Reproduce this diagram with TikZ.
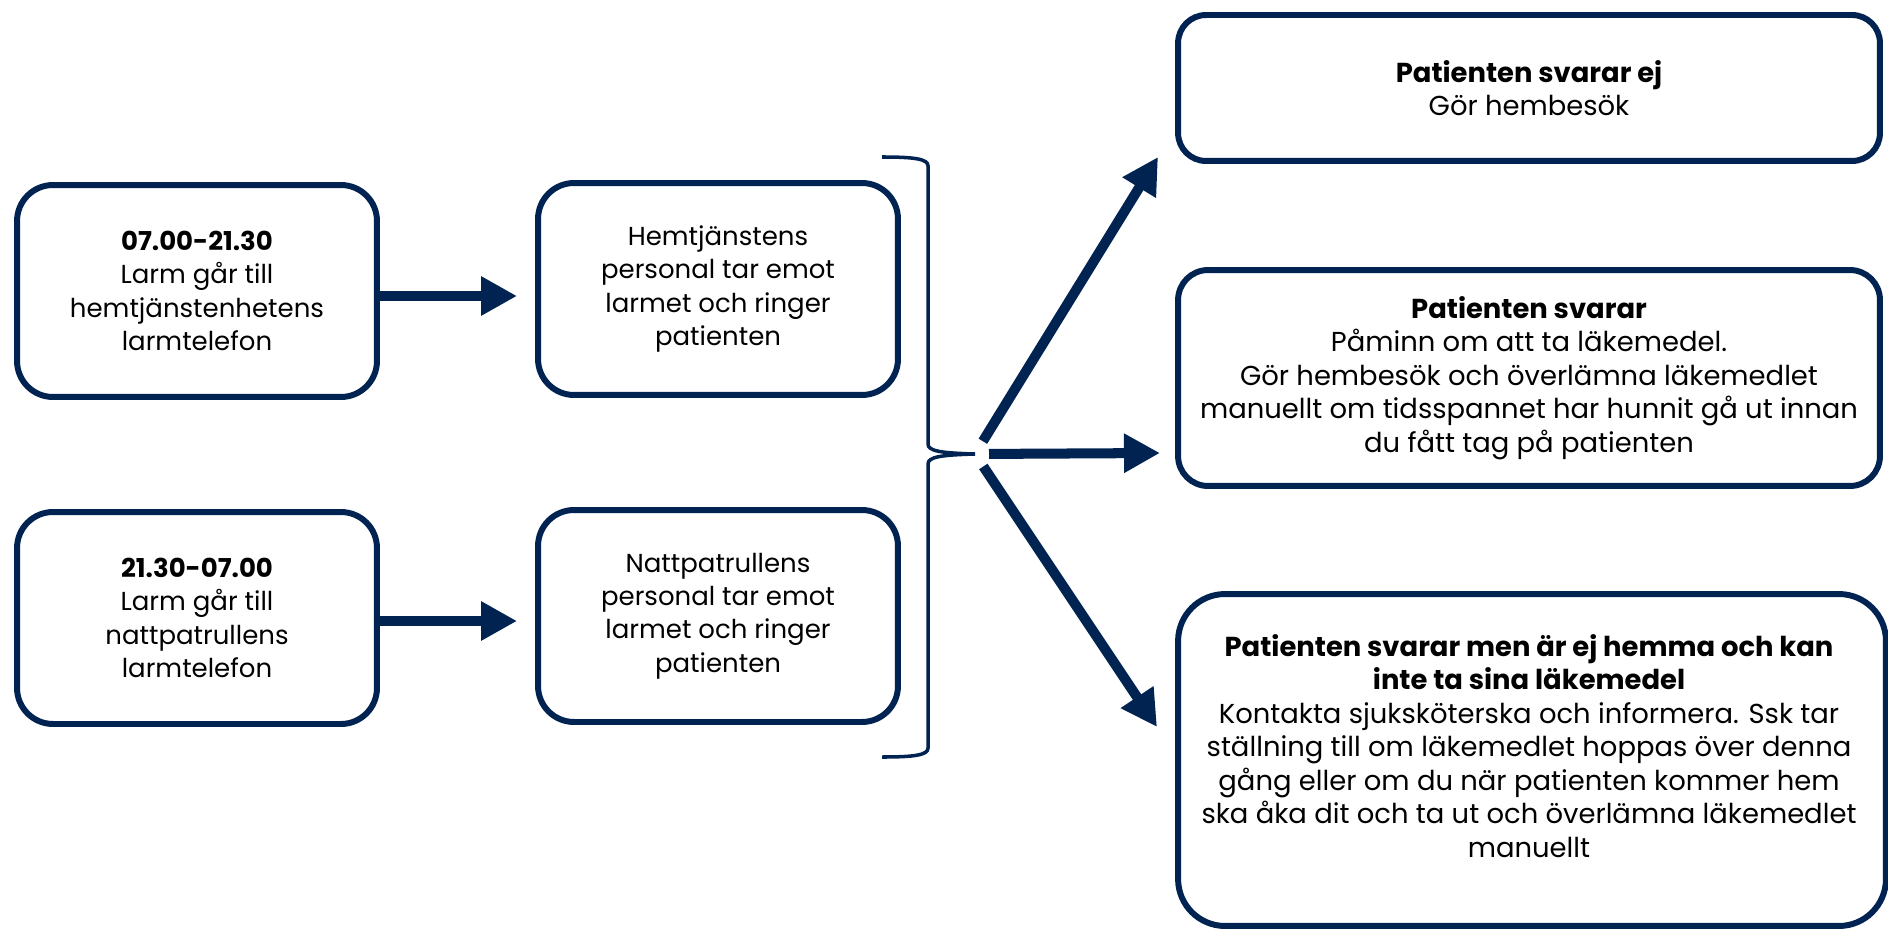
\documentclass[tikz,border=0pt]{standalone}
\usepackage{fontspec}
\setmainfont{Poppins}
\usetikzlibrary{arrows.meta,calc}
\definecolor{navy}{RGB}{0,35,82}
\tikzset{
	box/.style={draw=navy, line width=3.4pt, rounded corners=0.72cm, align=center,
		inner sep=0pt, font=\fontsize{14.8}{19}\selectfont},
	wide/.style={font=\fontsize{15.6}{19.1}\selectfont},
	flow/.style={draw=navy, line width=5.7pt, -{Triangle[length=0.72cm,width=0.74cm]}},
	brace/.style={draw=navy, line width=2pt},
}
\begin{document}
\begin{tikzpicture}[x=0.02cm, y=-0.02cm]
	\useasboundingbox (0,0) rectangle (1888,929);
	% left column
	\node[box, minimum width=7.2cm, minimum height=4.24cm] (day) at (197,291)
		{\textbf{07.00-21.30}\\Larm går till\\hemtjänstenhetens\\larmtelefon};
	\node[box, minimum width=7.2cm, minimum height=4.24cm] (night) at (197,618)
		{\textbf{21.30-07.00}\\Larm går till\\nattpatrullens\\larmtelefon};
	% staff
	\node[box, minimum width=7.2cm, minimum height=4.24cm] (homecare) at (718,289)
		{Hemtjänstens\\personal tar emot\\larmet och ringer\\patienten};
	\node[box, minimum width=7.2cm, minimum height=4.24cm] (patrol) at (718,616)
		{Nattpatrullens\\personal tar emot\\larmet och ringer\\patienten};
	\draw[flow, shorten >=0.36cm] ([yshift=-0.1cm]day.east) -- ([yshift=-0.1cm]day.east -| homecare.west);
	\draw[flow, shorten >=0.36cm] ([yshift=-0.06cm]night.east) -- ([yshift=-0.06cm]night.east -| patrol.west);
	% brace
	\draw[brace] (882,157) .. controls (915,157) and (928,159) .. (928,166) -- (928,444)
		.. controls (928,451) and (940,453) .. (975,454)
		.. controls (940,455) and (928,457) .. (928,464) -- (928,748)
		.. controls (928,755) and (915,757) .. (882,757);
	\coordinate (tip) at (975,454);
	% outcomes
	\node[box, wide, rounded corners=0.56cm, minimum width=14.04cm, minimum height=2.92cm] (noanswer) at (1529,88)
		{\textbf{Patienten svarar ej}\\Gör hembesök};
	\node[box, wide, rounded corners=0.6cm, minimum width=14.04cm, minimum height=4.32cm] (answer) at (1529,378)
		{\textbf{Patienten svarar}\\Påminn om att ta läkemedel.\\Gör hembesök och överlämna läkemedlet\\manuellt om tidsspannet har hunnit gå ut innan\\du fått tag på patienten};
	\node[box, rounded corners=0.94cm, minimum width=14.16cm, minimum height=6.64cm] (away) at (1532,760) {};
	\node[align=center, inner sep=0pt, wide] (awaytext) at (1529,746)
		{\textbf{Patienten svarar men är ej hemma och kan}\\\textbf{inte ta sina läkemedel}\\Kontakta sjuksköterska och informera. Ssk tar\\ställning till om läkemedlet hoppas över denna\\gång eller om du när patienten kommer hem\\ska åka dit och ta ut och överlämna läkemedlet\\manuellt};
	\coordinate (toE) at (1158,157);
	\coordinate (toF) at (1160,453);
	\coordinate (toG) at (1157,727);
	\draw[flow, shorten <=0.3cm] (tip) -- (toE);
	\draw[flow, shorten <=0.28cm] (tip) -- (toF);
	\draw[flow, shorten <=0.3cm] (tip) -- (toG);
\end{tikzpicture}
\end{document}
